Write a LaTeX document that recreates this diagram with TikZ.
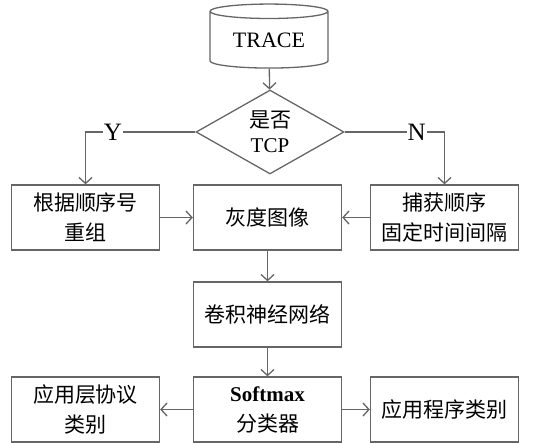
\documentclass[tikz,border=0pt]{standalone}
\usepackage{fontspec}
\setmainfont{Liberation Serif}
\newfontfamily\cjk{Noto Sans CJK SC}
\usetikzlibrary{shapes.geometric,arrows.meta}
\tikzset{
  box/.style={draw=black!60, line width=1.3pt, minimum width=148pt, minimum height=65pt,
    inner sep=0pt, align=center, font=\fontsize{21}{30}\cjk},
  arr/.style={draw=black!60, line width=1.3pt, -{Straight Barb[length=6pt,width=13pt]}},
  yesno/.style={fill=white, inner sep=1pt, font=\fontsize{25}{26}\selectfont},
}
\begin{document}
\begin{tikzpicture}[x=1pt,y=-1pt]
    \useasboundingbox (0,0) rectangle (533,443);
    % source and decision
    \node[cylinder, shape border rotate=90, aspect=0.2, draw=black!60, line width=1.3pt,
      minimum width=118pt, minimum height=64pt, inner sep=0pt,
      font=\fontsize{22}{24}\selectfont] (trace) at (269,40) {TRACE};
    \node[diamond, draw=black!60, line width=1.3pt, minimum width=148pt, minimum height=67pt,
      inner sep=0pt, align=center, font=\fontsize{21}{25}\selectfont] (judge) at (270,132)
      {\cjk 是否\\TCP};
    % second row
    \node[box] (regroup) at (85.5,217.5) {根据顺序号\\重组};
    \node[box] (gray) at (267.5,217.5) {灰度图像};
    \node[box] (capture) at (444.5,217.5) {捕获顺序\\固定时间间隔};
    % network and classifier
    \node[box] (cnn) at (267.5,314.5) {卷积神经网络};
    \node[box] (proto) at (85.5,409.5) {应用层协议\\类别};
    \node[box] (softmax) at (267.5,409.5) {{\rmfamily\bfseries Softmax}\\分类器};
    \node[box] (app) at (444.5,409.5) {应用程序类别};
    % connectors
    \draw[arr] (trace) -- (judge);
    \draw[arr] (judge.west) -| node[yesno, pos=0.375] {Y} (regroup.north);
    \draw[arr] (judge.east) -| node[yesno, pos=0.36] {N} (capture.north);
    \draw[arr] (regroup) -- (gray);
    \draw[arr] (capture) -- (gray);
    \draw[arr] (gray) -- (cnn);
    \draw[arr] (cnn) -- (softmax);
    \draw[arr] (softmax) -- (proto);
    \draw[arr] (softmax) -- (app);
\end{tikzpicture}
\end{document}
